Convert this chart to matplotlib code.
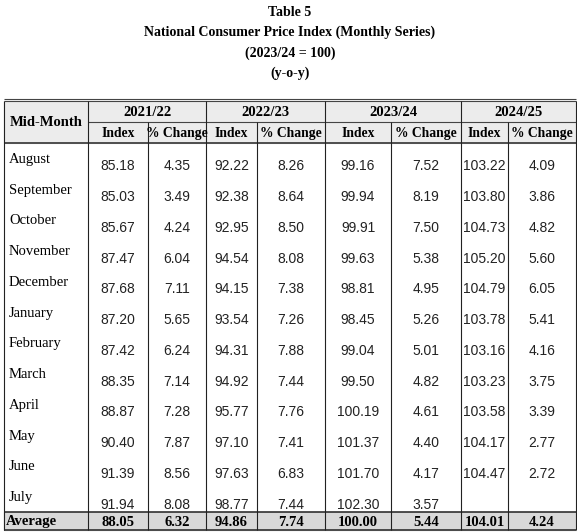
import matplotlib
matplotlib.use("Agg")
import matplotlib.pyplot as plt
from matplotlib.patches import Rectangle

months = ["August","September","October","November","December","January","February","March","April","May","June","July"]
years = ["2021/22","2022/23","2023/24","2024/25"]
idx_2122 = ["85.18","85.03","85.67","87.47","87.68","87.20","87.42","88.35","88.87","90.40","91.39","91.94"]
chg_2122 = ["4.35","3.49","4.24","6.04","7.11","5.65","6.24","7.14","7.28","7.87","8.56","8.08"]
idx_2223 = ["92.22","92.38","92.95","94.54","94.15","93.54","94.31","94.92","95.77","97.10","97.63","98.77"]
chg_2223 = ["8.26","8.64","8.50","8.08","7.38","7.26","7.88","7.44","7.76","7.41","6.83","7.44"]
idx_2324 = ["99.16","99.94","99.91","99.63","98.81","98.45","99.04","99.50","100.19","101.37","101.70","102.30"]
chg_2324 = ["7.52","8.19","7.50","5.38","4.95","5.26","5.01","4.82","4.61","4.40","4.17","3.57"]
idx_2425 = ["103.22","103.80","104.73","105.20","104.79","103.78","103.16","103.23","103.58","104.17","104.47",""]
chg_2425 = ["4.09","3.86","4.82","5.60","6.05","5.41","4.16","3.75","3.39","2.77","2.72",""]
averages = ["88.05","6.32","94.86","7.74","100.00","5.44","104.01","4.24"]
titles = ["Table 5","National Consumer Price Index (Monthly Series)","(2023/24 = 100)","(y-o-y)"]

cols = [idx_2122, chg_2122, idx_2223, chg_2223, idx_2324, chg_2324, idx_2425, chg_2425]

W, H = 577, 532
fig = plt.figure(figsize=(W/100, H/100), dpi=100)
ax = fig.add_axes([0, 0, 1, 1])
ax.set_xlim(0, W); ax.set_ylim(H, 0); ax.axis("off")

serif = "Liberation Serif"; sans = "Liberation Sans"
for t, y in zip(titles, [12, 32, 53, 73]):
    ax.text(290, y, t, ha="center", va="center", fontsize=10, fontweight="bold", family=serif)

xb = [4, 88, 148, 206, 257, 325, 391, 461, 508, 576]
top, h1, h2, body_end, bottom = 101, 122, 143, 512, 530
lw = 0.8
ax.add_patch(Rectangle((xb[0], top), xb[-1]-xb[0], h2-top, color="#ececec", zorder=0))
ax.add_patch(Rectangle((xb[0], body_end), xb[-1]-xb[0], bottom-body_end, color="#d9d9d9", zorder=0))
ax.hlines([top-2, top], xb[0], xb[-1], color="#444", lw=lw)
ax.hlines([h1], xb[1], xb[-1], color="#444", lw=lw)
ax.hlines([h2, body_end, bottom], xb[0], xb[-1], color="#222", lw=1.1)
for i, x in enumerate(xb):
    y0 = h1 if i in (2, 4, 6, 8) else top
    ax.vlines(x, y0, bottom, color="#222", lw=lw)

ax.text((xb[0]+xb[1])/2, (top+h2)/2, "Mid-Month", ha="center", va="center", fontsize=10.5, fontweight="bold", family=serif)
for k, yr in enumerate(years):
    ax.text((xb[1+2*k]+xb[3+2*k])/2, (top+h1)/2 + 1, yr, ha="center", va="center", fontsize=10.5, fontweight="bold", family=serif)
    for j, lab in enumerate(["Index", "% Change"]):
        c = 1+2*k+j
        ax.text((xb[c]+xb[c+1])/2, (h1+h2)/2 + 1, lab, ha="center", va="center", fontsize=9.8, fontweight="bold", family=serif)

rh = (body_end - h2) / 12
for r, m in enumerate(months):
    yc = h2 + rh*(r+0.5)
    ax.text(9, yc + 1, m, ha="left", va="center", fontsize=10.5, family=serif)
    for c, col in enumerate(cols):
        ax.text((xb[c+1]+xb[c+2])/2, yc + 8, col[r], ha="center", va="center", fontsize=10, family=sans, color="#222")

yc = (body_end+bottom)/2 + 1
ax.text(6, yc, "Average", ha="left", va="center", fontsize=10.5, fontweight="bold", family=serif)
for c, v in enumerate(averages):
    ax.text((xb[c+1]+xb[c+2])/2, yc, v, ha="center", va="center", fontsize=10.5, fontweight="bold", family=serif)

fig.savefig("out.png", dpi=100)
